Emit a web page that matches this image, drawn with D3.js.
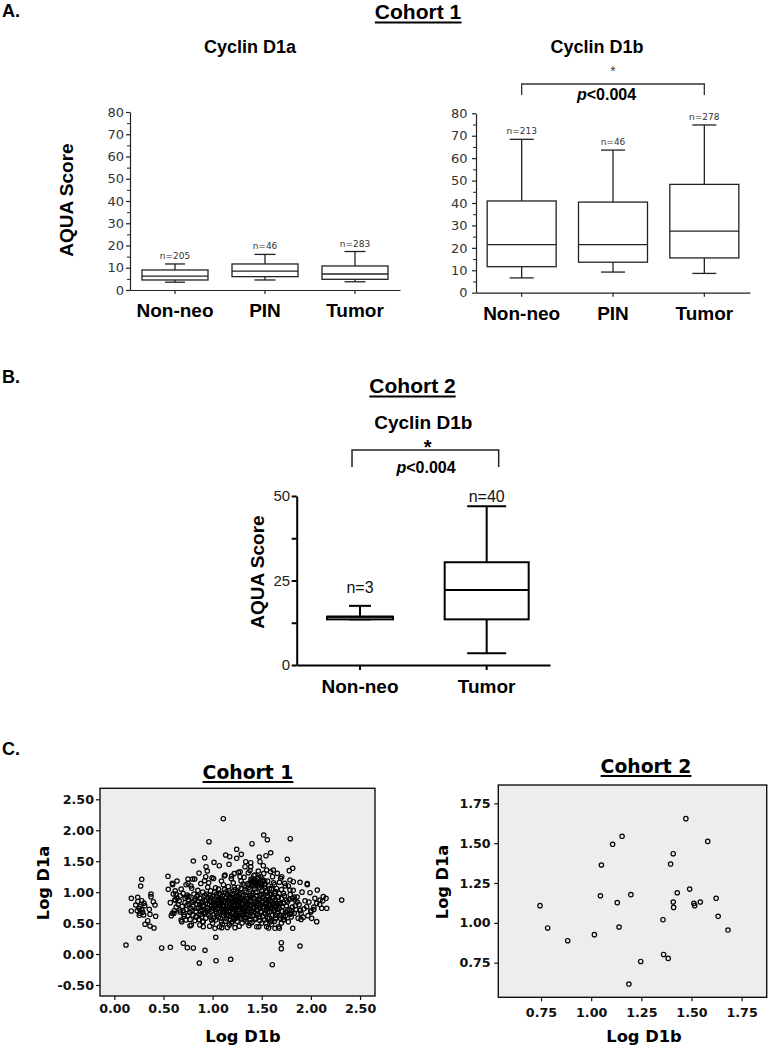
<!DOCTYPE html>
<html><head><meta charset="utf-8">
<script src="https://cdn.jsdelivr.net/npm/d3@7"></script>
<style>body{margin:0;background:#fff}svg{display:block}</style>
</head><body>
<svg id="c" width="768" height="1049"></svg>
<script>
// ---------------- DATA ----------------
const catsA = ["Non-neo", "PIN", "Tumor"];
// [lower whisker, Q1, median, Q3, upper whisker]
const d1aStats = [[3.5, 4.5, 6.2, 9.0, 11.7], [4.5, 6.0, 8.5, 11.7, 16.0], [3.7, 4.8, 7.2, 10.8, 17.3]];
const d1aN = ["n=205", "n=46", "n=283"];
const d1bStats = [[6.6, 11.6, 21.4, 40.9, 68.4], [9.2, 13.6, 21.4, 40.4, 63.6], [8.6, 15.5, 27.5, 48.3, 74.8]];
const d1bN = ["n=213", "n=46", "n=278"];
const ticksA = [0, 10, 20, 30, 40, 50, 60, 70, 80];
const minorA = [5, 15, 25, 35, 45, 55, 65, 75];

const catsB = ["Non-neo", "Tumor"];
const c2Stats = [[13.5, 13.5, 14.3, 14.3, 17.5], [3.5, 13.5, 22.2, 30.4, 47.0]];
const c2N = ["n=3", "n=40"];
const ticksB = [0, 25, 50];
const minorB = [12.5, 37.5];

const ticksC1x = [0, 0.5, 1.0, 1.5, 2.0, 2.5];
const ticksC1y = [-0.5, 0, 0.5, 1.0, 1.5, 2.0, 2.5];
const ticksC2 = [0.75, 1.0, 1.25, 1.5, 1.75];

// Cohort 1 scatter: [Log D1b, Log D1a]
const cohort1Sparse = [
[1.109,2.187],[0.963,1.815],[1.520,1.923],[1.557,1.847],[1.401,1.783],[1.790,1.864],
[0.804,1.503],[0.919,1.557],[1.014,1.482],[0.933,1.411],[0.946,1.342],[0.862,1.309],[1.068,1.427],[1.133,1.600],[1.174,1.573],[1.245,1.692],[1.292,1.611],[1.245,1.547],[1.167,1.450],[1.337,1.492],[1.388,1.476],[1.388,1.411],[1.330,1.411],[1.475,1.568],[1.482,1.492],[1.543,1.589],[1.591,1.637],[1.516,1.427],[1.550,1.358],[0.818,1.212],[0.919,1.185],[0.994,1.233],[1.126,1.277],[1.194,1.261],[1.262,1.321],[1.279,1.250],[1.363,1.314],[1.431,1.277],[1.618,1.358],[1.658,1.304],[1.703,1.250],[1.465,1.342],
[1.760,1.531],[1.815,1.385],[1.780,1.347],[1.692,1.224],[1.787,1.196],[1.821,1.169],[1.889,1.159],[1.963,1.137],[1.733,1.143],
[0.279,1.208],[0.546,1.256],[0.590,1.143],[0.638,1.180],[0.750,1.212],[0.797,1.212],[0.750,1.143]
];
const cohort1Left = [
[0.268,1.099],[0.173,0.901],[0.238,0.917],[0.279,0.862],[0.218,0.792],[0.261,0.765],[0.302,0.820],[0.373,0.970],[0.373,0.927],[0.397,0.846],[0.414,0.792],[0.173,0.696],[0.234,0.700],[0.261,0.658],[0.289,0.674],[0.254,0.626],[0.299,0.631],[0.356,0.723],[0.363,0.642],[0.421,0.610],[0.340,0.539],[0.312,0.481],[0.363,0.453],[0.404,0.421],[0.250,0.740],[0.280,0.720],[0.310,0.780],[0.240,0.850]
];
const cohort1Low = [
[0.254,0.259],[0.119,0.146],[0.482,0.098],[0.570,0.109],[0.702,0.174],[0.743,0.103],[0.804,0.098],[1.032,0.271],[0.923,0.061],[0.865,-0.145],[1.035,-0.108],[1.184,-0.085],[1.699,0.183],[1.699,0.087],[1.607,-0.172],[1.889,0.130]
];
const cohort1Right = [
[2.313,0.873],[2.161,0.739],[2.110,0.739],[2.126,0.927],[2.154,0.901],[2.093,0.873],[2.059,0.820],[2.065,1.035],[1.991,0.991],[1.963,1.120],[2.059,0.523],[2.008,0.577],[1.815,0.416],[1.923,0.594],[1.900,0.560],[1.957,0.765],[1.889,0.712],[1.838,0.873],[1.787,1.035],[1.719,0.550],[1.805,0.658],[2.090,0.800],[2.030,0.720],[2.000,0.680],[2.120,0.860]
];
const cohort1Edge = [
[0.905,0.442],[1.024,0.416],[1.093,0.426],[1.150,0.430],[1.228,0.426],[1.380,0.497],[1.449,0.442],[1.550,0.442],[1.635,0.416],[1.679,0.416],[0.783,0.469],[0.838,0.603],[0.905,0.523],
[0.594,1.120],[0.549,1.046],[0.628,0.970],[0.617,0.873],[0.607,0.658],[0.686,0.523],[0.729,0.550],[0.770,0.458],[0.668,0.712],[0.753,0.873],[0.743,0.954],[0.787,1.062]
];
const cohort1Core = [
[0.58,0.62],[0.61,0.70],[0.63,0.76],[0.57,0.83],[0.64,0.90],[0.60,0.97],[0.62,1.02],[0.59,0.66],[0.65,0.80],[0.62,0.88],
[0.68,0.55],[0.71,0.61],[0.67,0.68],[0.73,0.72],[0.69,0.77],[0.72,0.83],[0.66,0.86],[0.74,0.92],[0.70,0.98],[0.68,1.05],[0.73,1.12],[0.71,0.64],[0.67,0.94],[0.74,0.79],
[0.77,0.56],[0.80,0.63],[0.83,0.69],[0.78,0.74],[0.84,0.80],[0.79,0.84],[0.82,0.89],[0.76,0.93],[0.81,0.97],[0.85,1.03],[0.78,1.10],[0.83,0.60],[0.80,0.77],[0.84,0.93],[0.77,0.67],
[0.87,0.47],[0.90,0.52],[0.93,0.58],[0.88,0.64],[0.94,0.70],[0.86,0.75],[0.91,0.79],[0.89,0.83],[0.94,0.87],[0.87,0.90],[0.92,0.95],[0.90,1.00],[0.95,1.08],[0.88,1.14],[0.93,1.25],[0.91,0.67],[0.86,0.85],[0.95,0.74],[0.89,0.72],
[0.97,0.45],[1.00,0.50],[1.03,0.55],[0.98,0.60],[1.04,0.66],[0.96,0.71],[1.01,0.74],[0.99,0.78],[1.05,0.82],[0.97,0.86],[1.02,0.89],[1.00,0.93],[1.04,0.97],[0.98,1.02],[1.03,1.07],[0.96,1.15],[1.01,1.22],[1.05,0.63],[0.97,0.80],[1.03,0.76],[0.99,0.69],[1.02,0.84],
[1.07,0.44],[1.10,0.48],[1.13,0.53],[1.08,0.58],[1.14,0.62],[1.06,0.67],[1.11,0.70],[1.09,0.73],[1.15,0.77],[1.07,0.81],[1.12,0.85],[1.10,0.88],[1.14,0.92],[1.08,0.96],[1.13,1.00],[1.06,1.05],[1.11,1.12],[1.09,1.18],[1.12,1.26],[1.15,0.64],[1.07,0.75],[1.13,0.90],[1.10,0.79],[1.08,0.86],[1.14,0.70],
[1.17,0.47],[1.20,0.52],[1.23,0.57],[1.18,0.61],[1.24,0.65],[1.16,0.69],[1.21,0.73],[1.19,0.76],[1.25,0.80],[1.17,0.84],[1.22,0.87],[1.20,0.91],[1.24,0.95],[1.18,0.99],[1.23,1.04],[1.16,1.09],[1.21,1.15],[1.19,1.22],[1.22,1.30],[1.25,0.59],[1.17,0.78],[1.23,0.71],[1.20,0.83],[1.18,0.55],[1.24,0.88],
[1.27,0.45],[1.30,0.50],[1.33,0.55],[1.28,0.60],[1.34,0.64],[1.26,0.68],[1.31,0.72],[1.29,0.76],[1.35,0.80],[1.27,0.83],[1.32,0.87],[1.30,0.90],[1.34,0.94],[1.28,0.98],[1.33,1.03],[1.26,1.08],[1.31,1.13],[1.29,1.18],[1.32,1.24],[1.28,1.33],[1.35,0.70],[1.27,0.85],[1.33,0.78],[1.30,0.66],[1.26,0.93],
[1.37,0.46],[1.40,0.51],[1.43,0.56],[1.38,0.61],[1.44,0.66],[1.36,0.70],[1.41,0.74],[1.39,0.78],[1.45,0.82],[1.37,0.86],[1.42,0.90],[1.40,0.95],[1.44,1.00],[1.38,1.05],[1.43,1.10],[1.36,1.14],[1.41,1.17],[1.39,1.21],[1.42,1.27],[1.38,1.35],[1.45,0.88],[1.37,1.12],[1.43,1.15],[1.40,1.19],[1.44,1.13],[1.39,0.68],[1.42,0.80],
[1.47,0.44],[1.50,0.50],[1.53,0.55],[1.48,0.60],[1.54,0.65],[1.46,0.70],[1.51,0.74],[1.49,0.79],[1.55,0.83],[1.47,0.87],[1.52,0.92],[1.50,0.97],[1.54,1.02],[1.48,1.07],[1.53,1.12],[1.46,1.16],[1.51,1.20],[1.49,1.25],[1.52,1.30],[1.55,0.76],[1.47,1.14],[1.53,1.18],[1.50,1.10],[1.48,0.95],[1.46,1.22],
[1.57,0.42],[1.60,0.48],[1.63,0.53],[1.58,0.58],[1.64,0.63],[1.56,0.68],[1.61,0.73],[1.59,0.78],[1.65,0.82],[1.57,0.86],[1.62,0.91],[1.60,0.96],[1.64,1.01],[1.58,1.06],[1.63,1.12],[1.56,1.18],[1.61,1.25],[1.59,1.33],[1.62,0.70],[1.57,0.88],[1.60,0.55],[1.64,0.76],
[1.67,0.44],[1.70,0.50],[1.73,0.56],[1.68,0.62],[1.74,0.67],[1.66,0.72],[1.71,0.77],[1.69,0.82],[1.75,0.87],[1.67,0.92],[1.72,0.98],[1.70,1.04],[1.74,1.10],[1.68,1.16],[1.72,0.60],[1.66,0.80],
[1.77,0.52],[1.80,0.60],[1.83,0.66],[1.78,0.72],[1.84,0.78],[1.76,0.84],[1.81,0.90],[1.79,0.96],[1.82,1.03],[1.77,1.10],[1.80,0.70],
[1.87,0.58],[1.90,0.66],[1.93,0.73],[1.88,0.80],[1.94,0.86],[1.86,0.92],[1.91,1.00],[1.89,0.70],
[1.97,0.62],[2.00,0.70],[2.03,0.76],[1.98,0.84],[2.04,0.90]
];
const cohort1Core2 = [
[0.86,0.56],[0.88,0.69],[0.90,0.77],[0.92,0.86],[0.94,0.97],[0.96,0.63],[0.98,0.91],[0.99,0.84],[1.00,0.71],[1.01,0.58],[1.02,1.00],[1.03,0.80],[1.04,0.92],[1.05,0.74],[1.06,0.60],[1.06,0.88],[1.07,0.98],[1.08,0.69],[1.09,0.83],[1.09,0.52],[1.10,0.94],[1.11,0.77],[1.11,0.62],[1.12,1.04],[1.13,0.72],[1.13,0.83],[1.14,0.57],[1.15,0.96],[1.15,0.87],[1.16,0.74],[1.16,0.62],[1.17,1.02],[1.18,0.89],[1.18,0.70],[1.19,0.81],[1.19,0.50],[1.20,0.96],[1.20,0.66],[1.21,0.85],[1.21,0.59],[1.22,0.77],[1.22,1.08],[1.23,0.92],[1.23,0.63],[1.24,0.74],[1.24,0.83],[1.25,1.00],[1.25,0.53],[1.26,0.79],[1.26,0.61],[1.27,0.96],[1.27,0.72],[1.28,0.88],[1.28,0.66],[1.29,1.06],[1.29,0.57],[1.30,0.81],[1.30,0.74],[1.31,0.94],[1.31,0.63],[1.32,0.69],[1.32,1.10],[1.33,0.85],[1.33,0.59],[1.34,1.00],[1.34,0.76],[1.35,0.90],[1.35,0.52],[1.36,0.82],[1.36,0.64],[1.37,1.08],[1.37,0.73],[1.38,0.95],[1.38,0.56],[1.39,1.16],[1.39,0.86],[1.40,0.70],[1.40,1.12],[1.41,0.62],[1.41,0.98],[1.42,1.20],[1.42,0.76],[1.43,0.84],[1.43,1.05],[1.44,0.58],[1.44,1.18],[1.45,0.94],[1.45,0.72],[1.46,1.10],[1.46,0.64],[1.47,0.80],[1.47,1.24],[1.48,0.89],[1.48,0.54],[1.49,1.14],[1.49,0.69],[1.50,1.02],[1.50,0.83],[1.51,0.61],[1.51,1.17],[1.52,0.77],[1.52,0.96],[1.53,1.08],[1.53,0.66],[1.54,0.88],[1.54,0.50],[1.55,1.00],[1.55,0.72],[1.56,0.93],[1.56,0.58],[1.57,0.80],[1.57,1.10],[1.58,0.68],[1.58,0.97],[1.59,0.86],[1.59,0.52],[1.60,1.05],[1.60,0.75],[1.61,0.63],[1.61,0.92],[1.62,0.82],[1.62,1.15],[1.63,0.71],[1.63,0.98],[1.64,0.57],[1.64,0.88],[1.65,0.77],[1.65,1.06],[1.66,0.66],[1.67,0.85],[1.68,0.74],[1.68,0.98],[1.69,0.58],[1.70,0.90],[1.71,0.69],[1.72,0.82],[1.73,0.94],[1.74,0.62],[1.75,0.78],[1.76,0.70],[1.78,0.88],[1.79,0.64],[1.81,0.76],[1.83,0.92],[1.85,0.72],[1.86,0.84],
[0.70,0.70],[0.72,0.90],[0.75,0.62],[0.76,0.81],[0.79,0.70],[0.81,0.86],[0.82,0.54],[0.84,0.74],[0.85,0.95],[0.87,0.80],[0.89,0.60],[0.91,0.92],[0.93,0.66],[0.95,0.81],[0.97,0.95],[0.99,0.55],
[1.02,0.78],[1.05,0.86],[1.08,0.78],[1.12,0.66],[1.14,0.80],[1.17,0.92],[1.21,0.68],[1.24,0.60],[1.27,0.78],[1.30,0.86],[1.33,0.68],[1.36,0.78],[1.39,0.91],[1.42,0.68],[1.45,0.78],[1.48,0.74],[1.51,0.86],[1.54,0.80],[1.57,0.74],[1.60,0.84],[1.63,0.78],[1.66,0.92]
];
// Cohort 2 scatter: [Log D1b, Log D1a]
const cohort2Points = [
[0.745,1.108],[0.783,0.968],[0.883,0.888],[1.016,0.926],[1.046,1.170],[1.051,1.363],[1.107,1.493],[1.154,1.543],[1.130,1.127],[1.139,0.974],
[1.198,1.177],[1.188,0.616],[1.247,0.758],[1.358,1.020],[1.361,0.802],[1.384,0.777],[1.396,1.369],[1.409,1.434],[1.409,1.131],[1.411,1.097],
[1.429,1.189],[1.472,1.654],[1.491,1.212],[1.512,1.122],[1.516,1.108],[1.544,1.131],[1.581,1.511],[1.623,1.154],[1.633,1.041],[1.682,0.955]
];

// ---------------- DRAWING ----------------
const svg = d3.select("#c");
const LS = "'Liberation Sans', Arial, Helvetica, sans-serif";
const DV = "'DejaVu Sans', Verdana, sans-serif";
const fmt2 = d => d.toFixed(2);

function T(x, y, s, o = {}) {
  const t = svg.append("text").attr("x", x).attr("y", y)
    .attr("font-family", o.font || LS).attr("font-size", o.size || 12)
    .attr("font-weight", o.weight || "normal").attr("text-anchor", o.anchor || "middle")
    .attr("fill", o.fill || "#000").text(s);
  if (o.rotate) t.attr("transform", `rotate(${o.rotate},${x},${y})`);
  return t;
}
function underline(t, y, w) {
  const b = t.node().getBBox();
  svg.append("line").attr("x1", b.x).attr("x2", b.x + b.width).attr("y1", y).attr("y2", y)
    .attr("stroke", "#000").attr("stroke-width", w || 2);
}
function pText(x, y, size) {
  const t = svg.append("text").attr("x", x).attr("y", y).attr("text-anchor", "middle")
    .attr("font-family", LS).attr("font-weight", "bold").attr("font-size", size);
  t.append("tspan").attr("font-style", "italic").text("p");
  t.append("tspan").text("<0.004");
}
function styleAxis(g, color, sw, font, size, fill, weight) {
  g.selectAll("path,line").attr("stroke", color).attr("stroke-width", sw);
  g.selectAll("text").attr("font-family", font).attr("font-size", size).attr("fill", fill)
    .attr("font-weight", weight || "normal");
}
function drawBoxes(x, y, cats, stats, boxW, capW, sw, color) {
  const g = svg.append("g").attr("stroke", color).attr("stroke-width", sw).attr("fill", "none");
  const d = cats.map((c, i) => ({c, s: stats[i], bw: boxW[i], cw: capW[i]}));
  const grp = g.selectAll("g").data(d).join("g")
    .attr("transform", e => `translate(${x(e.c) + x.bandwidth() / 2},0)`);
  grp.append("line").attr("x1", 0).attr("x2", 0).attr("y1", e => y(e.s[4])).attr("y2", e => y(e.s[3]));
  grp.append("line").attr("x1", 0).attr("x2", 0).attr("y1", e => y(e.s[1])).attr("y2", e => y(e.s[0]));
  grp.append("line").attr("x1", e => -e.cw / 2).attr("x2", e => e.cw / 2).attr("y1", e => y(e.s[4])).attr("y2", e => y(e.s[4]));
  grp.append("line").attr("x1", e => -e.cw / 2).attr("x2", e => e.cw / 2).attr("y1", e => y(e.s[0])).attr("y2", e => y(e.s[0]));
  grp.append("rect").attr("x", e => -e.bw / 2).attr("width", e => e.bw)
    .attr("y", e => y(e.s[3])).attr("height", e => y(e.s[1]) - y(e.s[3])).attr("fill", "#fff");
  grp.append("line").attr("x1", e => -e.bw / 2).attr("x2", e => e.bw / 2).attr("y1", e => y(e.s[2])).attr("y2", e => y(e.s[2]));
  return d;
}

// ===== Panel A =====
T(2, 17, "A.", {size: 18, weight: "bold", anchor: "start"});
const coh1 = T(418, 19, "Cohort 1", {size: 21, weight: "bold"});
underline(coh1, 22.5, 2);

function panelA(x0, x1, yBot, yTop, stats, nLab, title, titleX, padding, boxW, capW, catY) {
  const y = d3.scaleLinear().domain([0, 80]).range([yBot, yTop]);
  const x = d3.scaleBand().domain(catsA).range([x0, x1]);
  const gy = svg.append("g").attr("transform", `translate(${x0},0)`)
    .call(d3.axisLeft(y).tickValues(ticksA).tickSize(4).tickSizeOuter(0).tickPadding(padding));
  styleAxis(gy, "#222", 1.2, DV, 13, "#333");
  const gm = svg.append("g").attr("transform", `translate(${x0},0)`)
    .call(d3.axisLeft(y).tickValues(minorA).tickSize(3).tickFormat(""));
  gm.select(".domain").remove();
  styleAxis(gm, "#222", 1, DV, 13, "#333");
  const gx = svg.append("g").attr("transform", `translate(0,${yBot})`)
    .call(d3.axisBottom(x).tickSize(4).tickSizeOuter(0).tickFormat(""));
  styleAxis(gx, "#222", 1.2, DV, 13, "#333");
  drawBoxes(x, y, catsA, stats, boxW, capW, 1.3, "#222");
  svg.append("g").selectAll("text").data(catsA).join("text")
    .attr("x", c => x(c) + x.bandwidth() / 2).attr("y", (c, i) => y(stats[i][4]) - 5)
    .attr("text-anchor", "middle").attr("font-family", DV).attr("font-size", 9).attr("fill", "#333")
    .text((c, i) => nLab[i]);
  svg.append("g").selectAll("text").data(catsA).join("text")
    .attr("x", c => x(c) + x.bandwidth() / 2).attr("y", catY)
    .attr("text-anchor", "middle").attr("font-family", LS).attr("font-size", 19).attr("font-weight", "bold")
    .text(c => c);
  T(titleX, 53, title, {size: 18, weight: "bold"});
  return {x, y};
}
const aL = panelA(130, 400, 290, 112, d1aStats, d1aN, "Cyclin D1a", 250, 2, [66, 66, 66], [20, 21, 21], 317);
const aR = panelA(476, 750, 292.7, 113.3, d1bStats, d1bN, "Cyclin D1b", 597, 4.5, [69, 69, 69], [24, 24, 24], 320);
T(73, 200, "AQUA Score", {size: 19, weight: "bold", rotate: -90});

// bracket A right
{
  const xa = aR.x("Non-neo") + aR.x.bandwidth() / 2, xb = aR.x("Tumor") + aR.x.bandwidth() / 2;
  svg.append("path").attr("d", `M${xa},95V84H${xb}V95`).attr("fill", "none").attr("stroke", "#333").attr("stroke-width", 1.3);
  T((xa + xb) / 2, 76, "*", {size: 14, fill: "#444"});
  pText(606.5, 100, 16);
}

// ===== Panel B =====
T(2, 383, "B.", {size: 18, weight: "bold", anchor: "start"});
const coh2 = T(412.5, 393, "Cohort 2", {size: 21, weight: "bold"});
underline(coh2, 396.5, 2);
T(423.3, 429, "Cyclin D1b", {size: 19, weight: "bold"});
{
  const y = d3.scaleLinear().domain([0, 50]).range([665, 496]);
  const x = d3.scaleBand().domain(catsB).range([296.7, 550]);
  const gy = svg.append("g").attr("transform", "translate(296.7,0)")
    .call(d3.axisLeft(y).tickValues(ticksB).tickSize(5).tickSizeOuter(0).tickPadding(1.5));
  styleAxis(gy, "#000", 2, LS, 15, "#222");
  const gm = svg.append("g").attr("transform", "translate(296.7,0)")
    .call(d3.axisLeft(y).tickValues(minorB).tickSize(5).tickFormat(""));
  gm.select(".domain").remove();
  styleAxis(gm, "#000", 2, LS, 15, "#222");
  const gx = svg.append("g").attr("transform", "translate(0,665)")
    .call(d3.axisBottom(x).tickSize(5).tickSizeOuter(0).tickFormat(""));
  styleAxis(gx, "#000", 2, LS, 15, "#222");
  drawBoxes(x, y, catsB, c2Stats, [66, 84], [22, 39], 2, "#000");
  const nOff = [13, 4.5];
  svg.append("g").selectAll("text").data(catsB).join("text")
    .attr("x", c => x(c) + x.bandwidth() / 2).attr("y", (c, i) => y(c2Stats[i][4]) - nOff[i])
    .attr("text-anchor", "middle").attr("font-family", LS).attr("font-size", 16).attr("fill", "#111")
    .text((c, i) => c2N[i]);
  svg.append("g").selectAll("text").data(catsB).join("text")
    .attr("x", c => x(c) + x.bandwidth() / 2).attr("y", 693)
    .attr("text-anchor", "middle").attr("font-family", LS).attr("font-size", 19).attr("font-weight", "bold")
    .text(c => c);
  T(263.6, 572, "AQUA Score", {size: 19, weight: "bold", rotate: -90});
  const xa = x("Non-neo") + x.bandwidth() / 2 - 8, xb = x("Tumor") + x.bandwidth() / 2 + 12;
  svg.append("path").attr("d", `M${xa},467V450H${xb}V467`).attr("fill", "none").attr("stroke", "#222").attr("stroke-width", 1.5);
  T(427.7, 454, "*", {size: 20, weight: "bold"});
  pText(426, 473, 16);
}

// ===== Panel C =====
T(2, 755, "C.", {size: 18, weight: "bold", anchor: "start"});
function scatter(r, xd, yd, pts, xt, yt, xPad, yPad, title, titleX, titleY, ylabX, ylabY, xlabX) {
  const x = d3.scaleLinear().domain(xd).range([r[0], r[1]]);
  const y = d3.scaleLinear().domain(yd).range([r[3], r[2]]);
  svg.append("rect").attr("x", r[0]).attr("y", r[2]).attr("width", r[1] - r[0]).attr("height", r[3] - r[2])
    .attr("fill", "#ededed").attr("stroke", "#111").attr("stroke-width", 1.4);
  const gx = svg.append("g").attr("transform", `translate(0,${r[3]})`)
    .call(d3.axisBottom(x).tickValues(xt).tickSize(4).tickPadding(xPad).tickSizeOuter(0).tickFormat(fmt2));
  gx.select(".domain").remove();
  styleAxis(gx, "#111", 1.2, DV, 12.7, "#111", "bold");
  const gy = svg.append("g").attr("transform", `translate(${r[0]},0)`)
    .call(d3.axisLeft(y).tickValues(yt).tickSize(4).tickPadding(yPad).tickSizeOuter(0).tickFormat(fmt2));
  gy.select(".domain").remove();
  styleAxis(gy, "#111", 1.2, DV, 12.7, "#111", "bold");
  svg.append("g").selectAll("circle").data(pts).join("circle")
    .attr("cx", d => x(d[0])).attr("cy", d => y(d[1])).attr("r", 2.2)
    .attr("fill", "none").attr("stroke", "#000").attr("stroke-width", 1.2);
  const t = T(titleX, titleY, title, {size: 18.8, weight: "bold", font: DV});
  underline(t, titleY + 3, 2);
  T(ylabX, ylabY, "Log D1a", {size: 16.2, weight: "bold", font: DV, rotate: -90});
  T(xlabX, 1042, "Log D1b", {size: 16.3, weight: "bold", font: DV});
}
const cohort1Points = [].concat(cohort1Sparse, cohort1Left, cohort1Low, cohort1Right, cohort1Edge, cohort1Core, cohort1Core2);
scatter([100, 375, 788.3, 996], [-0.1455, 2.652], [-0.678, 2.678], cohort1Points, ticksC1x, ticksC1y, 4, 2,
  "Cohort 1", 248, 779, 48.5, 883, 243);
scatter([498.3, 766.7, 785, 997.3], [0.537, 1.875], [0.533, 1.865], cohort2Points, ticksC2, ticksC2, 6.3, 3.6,
  "Cohort 2", 646, 773, 447.5, 882, 644);
</script>
</body></html>
